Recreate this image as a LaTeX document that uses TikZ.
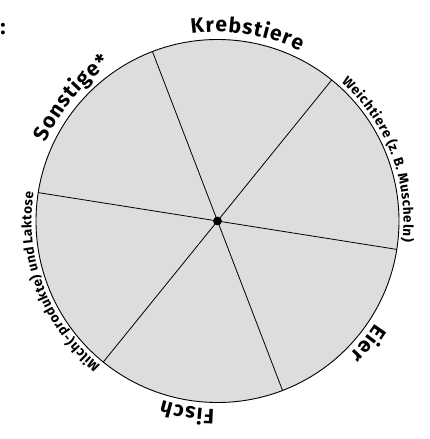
\documentclass[tikz,border=0pt]{standalone}
\usepackage{fontspec}
\setmainfont{Fira Sans}
\newfontfamily\lblfont{Fira Sans}
\usetikzlibrary{decorations.text}
\definecolor{pie}{RGB}{220,221,223}
\newcommand\arclabel[5]{%
  \path[decorate, decoration={text along path, text align=center,
    text={|#4|#5}}] (#1+#2:#3) arc[start angle=#1+#2, end angle=#1-#2, radius=#3];}
\newcommand\bigfont{\lblfont\bfseries\fontsize{21}{21}\selectfont}
\newcommand\smallfont{\lblfont\bfseries\fontsize{13.5}{13.5}\selectfont}
\newcommand\KA{\kern1.1pt}
\newcommand\KB{\kern0.65pt}
\newcommand\KC{\kern0.5pt}
\tikzset{
  spoke/.style={draw=black, line width=0.8pt},
  hub/.style={circle, fill=black, inner sep=0pt, minimum size=8.5pt},
}
\begin{document}
\begin{tikzpicture}[x=1pt,y=1pt]
\useasboundingbox (-217.5,-218) rectangle (211.5,221);
\draw[fill=pie, line width=0.9pt] (0,0) circle[radius=181.5pt];
\node[hub] (c) at (0,0) {};
\foreach \a/\n in {111/p1,51/p2,-9/p3,-69/p4,-129/p5,171/p6}{
  \coordinate (\n) at (\a:181.5pt);
  \draw[spoke] (c.center) -- (\n);
}
\node[hub] at (c) {};
\arclabel{81}{40}{189pt}{\bigfont}{K{\KA}r{\KA}e{\KA}b{\KA}s{\KA}t{\KA}i{\KA}e{\KA}r{\KA}e}
\arclabel{140}{40}{189pt}{\bigfont}{S{\KA}o{\KA}n{\KA}s{\KA}t{\KA}i{\KA}g{\KA}e{\KA}*}
\arclabel{-39}{40}{188pt}{\bigfont}{E{\KA}i{\KA}e{\KA}r}
\arclabel{-99}{40}{188pt}{\bigfont}{F{\KA}i{\KA}s{\KA}c{\KA}h}
\arclabel{21}{45}{186pt}{\smallfont}{W{\KB}e{\KB}i{\KB}c{\KB}h{\KB}t{\KB}i{\KB}e{\KB}r{\KB}e ({\KB}z.{\KB} B.{\KB} M{\KB}u{\KB}s{\KB}c{\KB}h{\KB}e{\KB}l{\KB}n{\KB})}
\arclabel{-159}{45}{186pt}{\smallfont}{M{\KC}i{\KC}l{\KC}c{\KC}h{\KC}({\KC}-{\KC}p{\KC}r{\KC}o{\KC}d{\KC}u{\KC}k{\KC}t{\KC}e{\KC}) u{\KC}n{\KC}d L{\KC}a{\KC}k{\KC}t{\KC}o{\KC}s{\KC}e}
\node[anchor=base, inner sep=0pt, font=\bfseries\fontsize{22}{22}\selectfont] (colon) at (-214.5,186) {:};
\end{tikzpicture}
\end{document}
